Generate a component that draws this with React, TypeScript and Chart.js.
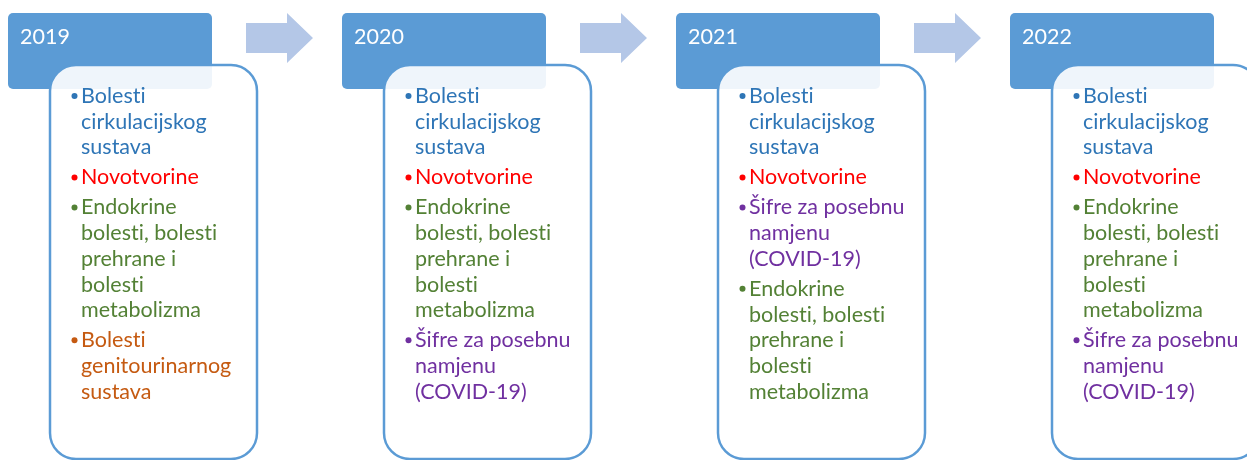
import React, { useEffect, useRef } from "react";
import { Chart, registerables } from "chart.js";

Chart.register(...registerables);

// ---- data ----
const years = ["2019", "2020", "2021", "2022"];
const categoryLabels = [
  "Bolesti\ncirkulacijskog\nsustava",
  "Novotvorine",
  "Endokrine\nbolesti, bolesti\nprehrane i\nbolesti\nmetabolizma",
  "Bolesti\ngenitourinarnog\nsustava",
  "Šifre za posebnu\nnamjenu\n(COVID-19)",
];
const categoryColors = ["#2E75B6", "#FF0000", "#538135", "#C55A11", "#7030A0"];
// leading causes per year (indices into categoryLabels), in rank order
const ranks2019 = [0, 1, 2, 3];
const ranks2020 = [0, 1, 2, 4];
const ranks2021 = [0, 1, 4, 2];
const ranks2022 = [0, 1, 2, 4];
const ranksByYear = [ranks2019, ranks2020, ranks2021, ranks2022];

const FONT = "Lato, 'Open Sans', sans-serif";

const timelinePlugin = {
  id: "timeline",
  afterDraw(chart: any) {
    const ctx = chart.ctx as CanvasRenderingContext2D;
    const xs = chart.scales.x;
    const top = chart.chartArea.top;
    ctx.save();
    (ctx as any).letterSpacing = "0.01px";
    const anchors = years.map((_, i) => xs.getPixelForValue(i));

    // arrows between columns
    ctx.fillStyle = "#B4C7E7";
    for (let i = 0; i < anchors.length - 1; i++) {
      const a = anchors[i];
      ctx.beginPath();
      ctx.moveTo(a + 238, top + 23);
      ctx.lineTo(a + 279, top + 23);
      ctx.lineTo(a + 279, top + 13);
      ctx.lineTo(a + 305, top + 38);
      ctx.lineTo(a + 279, top + 63);
      ctx.lineTo(a + 279, top + 53);
      ctx.lineTo(a + 238, top + 53);
      ctx.closePath();
      ctx.fill();
    }

    anchors.forEach((a, i) => {
      // header
      ctx.fillStyle = "#5B9BD5";
      ctx.beginPath();
      (ctx as any).roundRect(a, top + 13, 204, 76, 5);
      ctx.fill();
      ctx.fillStyle = "#FFFFFF";
      ctx.font = `21.5px ${FONT}`;
      ctx.textBaseline = "alphabetic";
      ctx.textAlign = "left";
      ctx.fillText(years[i], a + 12, top + 44);

      // content box
      ctx.beginPath();
      (ctx as any).roundRect(a + 42, top + 65, 207, 394, 26);
      ctx.fillStyle = "rgba(255,255,255,0.9)";
      ctx.fill();
      ctx.lineWidth = 2.5;
      ctx.strokeStyle = "#5B9BD5";
      ctx.stroke();

      // items
      let y = top + 103;
      ctx.font = `21.5px ${FONT}`;
      ranksByYear[i].forEach((c) => {
        const color = categoryColors[c];
        const lines = categoryLabels[c].split("\n");
        ctx.fillStyle = color;
        ctx.beginPath();
        ctx.arc(a + 66.5, y - 7, 3, 0, Math.PI * 2);
        ctx.fill();
        lines.forEach((ln, k) => {
          ctx.fillText(ln, a + 73, y + k * 25.7);
        });
        y += lines.length * 25.7 + 4.3;
      });
    });
    ctx.restore();
  },
};

export default function App() {
  const ref = useRef<HTMLCanvasElement | null>(null);
  useEffect(() => {
    if (!ref.current) return;
    const chart = new Chart(ref.current, {
      type: "bar",
      data: { labels: years, datasets: [] },
      options: {
        animation: false,
        responsive: true,
        maintainAspectRatio: false,
        layout: { padding: { left: 8, right: 237, top: 0, bottom: 0 } },
        plugins: { legend: { display: false }, tooltip: { enabled: false } },
        scales: {
          x: { type: "category", display: false, offset: false },
          y: { display: false },
        },
      },
      plugins: [timelinePlugin],
    } as any);
    return () => chart.destroy();
  }, []);
  return (
    <div style={{ position: "absolute", left: 0, top: 0, width: 1247, height: 460, background: "#fff" }}>
      <canvas ref={ref} />
    </div>
  );
}
